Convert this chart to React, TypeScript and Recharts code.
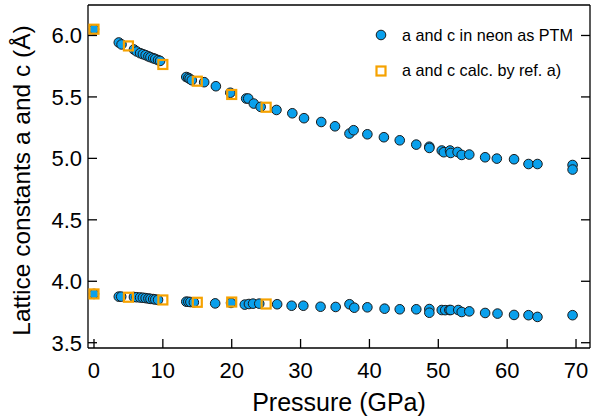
import { ScatterChart, Scatter, XAxis, YAxis, Legend } from 'recharts';

// measured in neon (upper branch a, lower branch c)
const upperPressure = [0, 3.6, 4.0, 5.8, 6.2, 6.7, 7.1, 7.5, 7.9, 8.2, 8.6, 8.9, 9.3, 9.6, 13.4, 13.7, 13.9, 14.2, 16.0, 17.7, 19.8, 22.1, 22.4, 23.2, 24.2, 26.5, 28.8, 30.5, 33.0, 35.0, 37.1, 37.7, 39.7, 42.1, 44.4, 46.8, 48.7, 48.7, 50.5, 50.8, 51.7, 51.8, 52.8, 53.4, 54.5, 56.8, 58.5, 61.0, 63.1, 64.4, 69.5, 69.5];
const upperLattice = [6.051, 5.943, 5.927, 5.886, 5.87, 5.856, 5.848, 5.84, 5.83, 5.823, 5.815, 5.809, 5.8, 5.793, 5.662, 5.655, 5.647, 5.636, 5.62, 5.587, 5.534, 5.487, 5.487, 5.446, 5.419, 5.394, 5.367, 5.327, 5.296, 5.261, 5.202, 5.229, 5.196, 5.172, 5.147, 5.112, 5.095, 5.085, 5.064, 5.05, 5.064, 5.044, 5.052, 5.028, 5.031, 5.009, 4.998, 4.993, 4.954, 4.954, 4.946, 4.909];
const lowerPressure = [0, 3.6, 3.95, 5.8, 6.2, 6.7, 7.1, 7.5, 7.9, 8.2, 8.6, 8.9, 9.3, 13.4, 13.7, 14.0, 14.5, 17.6, 19.9, 21.9, 22.5, 23.1, 24.0, 26.6, 28.7, 30.4, 32.9, 35.1, 37.1, 37.8, 39.7, 42.2, 44.4, 46.8, 48.7, 48.7, 50.5, 51.0, 51.6, 51.8, 52.9, 53.4, 54.5, 56.8, 58.6, 61.0, 63.1, 64.4, 69.5];
const lowerLattice = [3.897, 3.875, 3.875, 3.872, 3.87, 3.868, 3.866, 3.863, 3.86, 3.857, 3.855, 3.852, 3.849, 3.834, 3.833, 3.831, 3.829, 3.82, 3.824, 3.81, 3.815, 3.818, 3.818, 3.813, 3.801, 3.801, 3.793, 3.791, 3.813, 3.785, 3.788, 3.777, 3.772, 3.772, 3.774, 3.744, 3.766, 3.765, 3.766, 3.766, 3.766, 3.75, 3.755, 3.742, 3.737, 3.726, 3.724, 3.71, 3.724];

// calculated, ref. a)
const calcPressure = [0, 5, 10, 15, 20, 25];
const calcA = [6.051, 5.915, 5.764, 5.628, 5.52, 5.416];
const calcC = [3.897, 3.87, 3.848, 3.829, 3.831, 3.815];

const xTicks = [0, 10, 20, 30, 40, 50, 60, 70];
const yTicks = [3.5, 4.0, 4.5, 5.0, 5.5, 6.0];

const measured = [
  ...upperPressure.map((p, i) => ({ p, v: upperLattice[i] })),
  ...lowerPressure.map((p, i) => ({ p, v: lowerLattice[i] })),
];
const calculated = [
  ...calcPressure.map((p, i) => ({ p, v: calcA[i] })),
  ...calcPressure.map((p, i) => ({ p, v: calcC[i] })),
];

const FONT = '"Liberation Sans", Arial, sans-serif';
const BLUE = '#0aa0ec';
const ORANGE = '#f6a200';
const TL = 9;

const makeTick = (side: string) => (props: any) => {
  const { x, y, payload } = props;
  if (side === 'bottom') {
    return (
      <g>
        <line x1={x} y1={y} x2={x} y2={y - TL} stroke="#000" strokeWidth={1.3} />
        <text x={x} y={y + 30} textAnchor="middle" fontSize={22} fontFamily={FONT} fill="#000">{payload.value}</text>
      </g>
    );
  }
  if (side === 'top') {
    return <line x1={x} y1={y} x2={x} y2={y + TL} stroke="#000" strokeWidth={1.3} />;
  }
  if (side === 'left') {
    return (
      <g>
        <line x1={x} y1={y} x2={x + TL} y2={y} stroke="#000" strokeWidth={1.3} />
        <text x={x - 6} y={y} dy="0.36em" textAnchor="end" fontSize={22} fontFamily={FONT} fill="#000">{payload.value.toFixed(1)}</text>
      </g>
    );
  }
  return <line x1={x} y1={y} x2={x - TL} y2={y} stroke="#000" strokeWidth={1.3} />;
};

const Dot = (props: any) => (
  <circle cx={props.cx} cy={props.cy} r={4.8} fill={BLUE} stroke="#1a1a1a" strokeWidth={1} />
);

const Square = (props: any) => (
  <rect x={props.cx - 4.5} y={props.cy - 4.5} width={9} height={9} fill="none" stroke={ORANGE} strokeWidth={2.2} />
);

const LegendBox = () => (
  <div style={{ fontFamily: FONT, fontSize: 16.2, color: '#000' }}>
    <div style={{ display: 'flex', alignItems: 'center', height: 18, marginBottom: 17.7 }}>
      <svg width={14} height={14} style={{ marginRight: 14 }}>
        <circle cx={7} cy={7} r={4.8} fill={BLUE} stroke="#1a1a1a" strokeWidth={1} />
      </svg>
      <span>a and c in neon as PTM</span>
    </div>
    <div style={{ display: 'flex', alignItems: 'center', height: 18 }}>
      <svg width={14} height={14} style={{ marginRight: 14 }}>
        <rect x={2.5} y={2.5} width={9} height={9} fill="none" stroke={ORANGE} strokeWidth={2.2} />
      </svg>
      <span>a and c calc. by ref. a)</span>
    </div>
  </div>
);

export default function App() {
  return (
    <div style={{ position: 'absolute', left: 0, top: 0, background: '#fff' }}>
      <ScatterChart width={599} height={420} margin={{ top: 0, right: 0, bottom: 0, left: 0 }}>
        <XAxis
          dataKey="p"
          type="number"
          domain={[-0.87, 72.03]}
          allowDataOverflow
          ticks={xTicks}
          height={72}
          tickSize={0}
          tickMargin={0}
          tickLine={false}
          axisLine={{ stroke: '#000', strokeWidth: 1.3 }}
          tick={makeTick('bottom')}
          label={{
            content: ({ viewBox }: any) => (
              <text x={viewBox.x + viewBox.width / 2} y={viewBox.y + 63} textAnchor="middle" fontSize={25} fontFamily={FONT} fill="#000">
                Pressure (GPa)
              </text>
            ),
          }}
        />
        <XAxis
          xAxisId="top"
          orientation="top"
          type="number"
          domain={[-0.87, 72.03]}
          allowDataOverflow
          ticks={xTicks}
          height={5}
          tickSize={0}
          tickMargin={0}
          tickLine={false}
          axisLine={{ stroke: '#000', strokeWidth: 1.3 }}
          tick={makeTick('top')}
        />
        <YAxis
          dataKey="v"
          type="number"
          domain={[3.457, 6.248]}
          allowDataOverflow
          ticks={yTicks}
          width={88}
          tickSize={0}
          tickMargin={0}
          tickLine={false}
          axisLine={{ stroke: '#000', strokeWidth: 1.3 }}
          tick={makeTick('left')}
          label={{
            content: ({ viewBox }: any) => {
              const cx = 21;
              const cy = viewBox.y + viewBox.height / 2 + 4;
              return (
                <text x={cx} y={cy} transform={`rotate(-90 ${cx} ${cy})`} textAnchor="middle" dominantBaseline="central" fontSize={24.5} fontFamily={FONT} fill="#000">
                  Lattice constants a and c (Å)
                </text>
              );
            },
          }}
        />
        <YAxis
          yAxisId="right"
          orientation="right"
          type="number"
          domain={[3.457, 6.248]}
          allowDataOverflow
          ticks={yTicks}
          width={9}
          tickSize={0}
          tickMargin={0}
          tickLine={false}
          axisLine={{ stroke: '#000', strokeWidth: 1.3 }}
          tick={makeTick('right')}
        />
        <Legend
          layout="vertical"
          align="center"
          verticalAlign="middle"
          wrapperStyle={{ left: 374, top: 26, width: 224 }}
          content={LegendBox}
        />
        <Scatter name="a and c in neon as PTM" data={measured} shape={Dot} isAnimationActive={false} />
        <Scatter name="a and c calc. by ref. a)" data={calculated} shape={Square} isAnimationActive={false} />
      </ScatterChart>
    </div>
  );
}
